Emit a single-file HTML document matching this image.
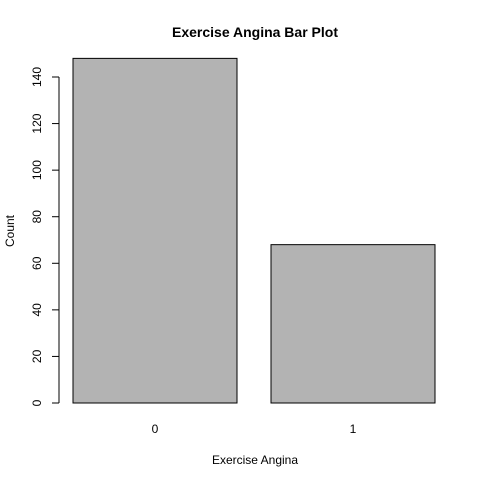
<!DOCTYPE html>
<html><head><meta charset="utf-8"><style>body{margin:0;background:#fff}svg{display:block;font-family:"Liberation Sans",sans-serif}</style></head>
<body>
<svg width="480" height="480">
<text x="255" y="37" text-anchor="middle" font-size="14" font-weight="bold">Exercise Angina Bar Plot</text>
<text x="255" y="464" text-anchor="middle" font-size="12">Exercise Angina</text>
<text transform="translate(14,231) rotate(-90)" text-anchor="middle" font-size="12">Count</text>
<g id="plot"></g>
</svg>
<script>
const categories=["0","1"];
const counts=[148,68];
const yTicks=[0,20,40,60,80,100,120,140];
const ns="http://www.w3.org/2000/svg";
const g=document.getElementById('plot');
const y=v=>403-v*(403-77)/140;
const barX=i=>73+i*198;
function mk(t,a){const e=document.createElementNS(ns,t);for(const k in a)e.setAttribute(k,a[k]);g.appendChild(e);return e;}
categories.forEach((c,i)=>{
 const r=mk('rect',{x:barX(i),y:y(counts[i]),width:164,height:y(0)-y(counts[i]),fill:'#b3b3b3',stroke:'#000','stroke-width':1});
 
 
 const t=mk('text',{x:barX(i)+82,y:433,'text-anchor':'middle','font-size':12});
 t.textContent=c;
 
 
});
const ax=mk('line',{x1:59,x2:59,y1:y(0),y2:y(140),stroke:'#000'});


yTicks.forEach(v=>{
 const l=mk('line',{x1:52,x2:59,y1:y(v),y2:y(v),stroke:'#000'});
 
 
 const t=mk('text',{transform:`translate(41,${y(v)}) rotate(-90)`,'text-anchor':'middle','font-size':12});
 t.textContent=v;
 
 
});
</script>
</body></html>
